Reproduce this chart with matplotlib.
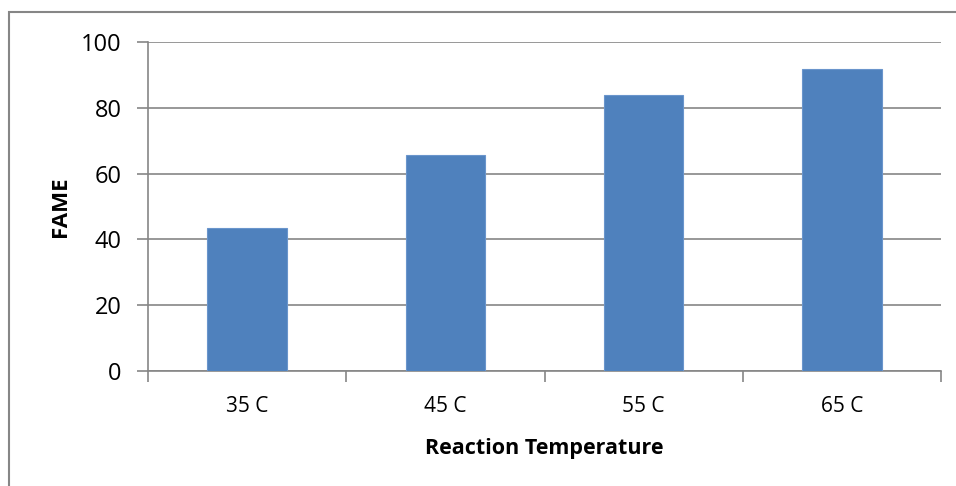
import matplotlib.pyplot as plt
from matplotlib.patches import Rectangle

temps = ["35 C", "45 C", "55 C", "65 C"]
fame = [43.4, 65.6, 83.9, 91.7]

plt.rcParams['font.family'] = ['Open Sans', 'DejaVu Sans']
grey = "#868686"

fig = plt.figure(figsize=(9.56, 4.86), dpi=100)
ax = fig.add_axes([148/956, 1 - 371/486, (941-148)/956, (371-42)/486])

x = range(len(temps))
ax.bar(x, fame, width=0.4, color="#4f81bd", edgecolor="#6a95cc", linewidth=0.8, zorder=3)

ax.set_xlim(-0.5, len(temps) - 0.5)
ax.set_ylim(0, 100)
ax.set_yticks(range(0, 101, 20))
ax.set_xticks(list(x))
ax.set_xticklabels(temps)
ax.set_xticks([i - 0.5 for i in range(len(temps) + 1)], minor=True)

ax.grid(axis="y", color=grey, linewidth=1.2, zorder=0)
for side in ["top", "right"]:
    ax.spines[side].set_visible(False)
for side in ["left", "bottom"]:
    ax.spines[side].set_color(grey)
    ax.spines[side].set_linewidth(1.2)

ax.tick_params(axis="y", length=8, width=1.2, color=grey, labelsize=17, pad=11)
ax.tick_params(axis="x", which="major", length=0, labelsize=15, pad=18)
ax.tick_params(axis="x", which="minor", length=8, width=1.2, color=grey)

ax.set_xlabel("Reaction Temperature", fontsize=15.5, fontweight="bold", labelpad=15)
ax.set_ylabel("FAME", fontsize=16, fontweight="bold", labelpad=7)

# outer chart frame
fig.patches.append(Rectangle((9/956, -0.5), 2, 1.5 - 12/486, transform=fig.transFigure,
                             fill=False, edgecolor=grey, linewidth=1.5))

fig.savefig("out.png", dpi=100)
